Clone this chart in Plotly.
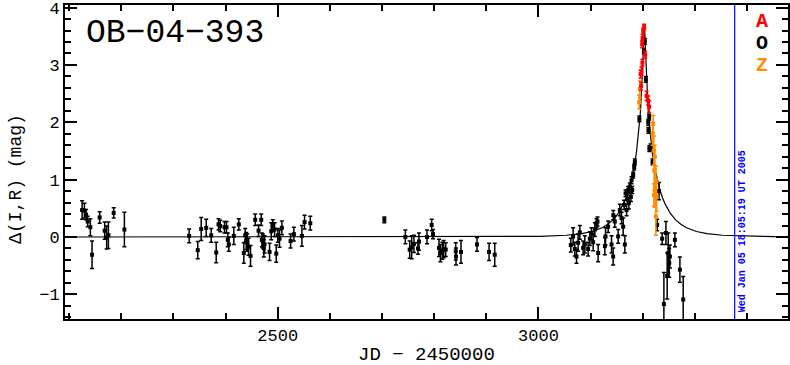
import plotly.graph_objects as go

# ---------------- data ----------------
# model light curve (JD-2450000, Delta mag)
model_t = [2092, 2600, 2803, 2953, 3003, 3053, 3083, 3103, 3123, 3133, 3143, 3153, 3163,
           3168, 3173, 3178, 3183, 3188, 3191, 3193, 3195, 3196, 3197, 3198, 3199,
           3200, 3201, 3202, 3202.5, 3203, 3203.5, 3204, 3205, 3206, 3207, 3208,
           3209, 3210, 3211, 3213, 3215, 3218, 3223, 3228, 3233, 3238, 3243, 3253,
           3263, 3273, 3283, 3303, 3323, 3353, 3403, 3453, 3478]
model_dm = [0.0, 0.0, 0.0, 0.005, 0.011, 0.03, 0.058, 0.096, 0.165, 0.221, 0.299, 0.411,
            0.573, 0.681, 0.815, 0.983, 1.198, 1.486, 1.713, 1.899, 2.125, 2.259, 2.409,
            2.582, 2.781, 3.013, 3.273, 3.523, 3.608, 3.640, 3.608, 3.523, 3.273, 3.013,
            2.781, 2.582, 2.409, 2.259, 2.125, 1.899, 1.713, 1.486, 1.198, 0.983, 0.815,
            0.681, 0.573, 0.411, 0.299, 0.221, 0.165, 0.096, 0.058, 0.03, 0.011, 0.005, 0.004]

# OGLE (O) data
o_t = [2124.8, 2129.2, 2132.4, 2135.5, 2140.6, 2143.9, 2158.5, 2168.1, 2171.9, 2175.2,
       2185.4, 2205.9,
       2330.1, 2346.6, 2353.2, 2362.8, 2372.4, 2382.0, 2386.4, 2389.6, 2397.9, 2401.7,
       2404.2, 2406.1, 2415.7, 2425.3, 2434.9, 2437.6, 2439.5, 2441.5, 2444.0, 2447.8,
       2456.8, 2463.2, 2468.3, 2469.5, 2471.4, 2473.3, 2474.7, 2484.3, 2487.5, 2490.6,
       2493.9, 2497.1, 2500.2, 2503.4, 2507.9, 2524.6, 2530.9, 2546.3, 2551.4, 2562.4,
       2704.4, 2744.7, 2753.0, 2756.8, 2761.2, 2768.9, 2770.8, 2786.2, 2795.2, 2797.7,
       2809.2, 2811.9, 2815.7, 2818.2, 2822.1, 2841.3, 2841.8, 2851.4, 2882.1, 2905.2,
       2916.1,
       3062.0, 3066.4, 3069.7, 3072.9, 3076.0, 3079.3, 3085.6, 3088.9, 3095.2, 3098.5,
       3101.7, 3104.8, 3108.1, 3111.3, 3113.2, 3114.4, 3127.3, 3128.6, 3133.6, 3140.1,
       3143.2, 3143.5, 3146.4, 3152.8, 3156.0, 3159.3, 3162.4, 3164.3, 3165.6, 3167.0,
       3168.9, 3170.8, 3172.0, 3173.3, 3175.2, 3177.2, 3178.5, 3179.7, 3181.6, 3183.5,
       3184.8, 3193.5, 3202.1, 3204.0, 3206.0, 3210.4, 3210.8, 3212.3, 3212.6, 3215.0,
       3218.8, 3227.6, 3231.2, 3237.2, 3240.5, 3244.4, 3246.8, 3248.8, 3250.7, 3252.0,
       3261.6, 3271.2, 3277.5]
o_dm = [0.47, 0.46, 0.39, 0.27, 0.17, -0.31, 0.34, 0.11, -0.01, 0.03,
        0.42, 0.13,
        0.02, -0.23, 0.14, 0.16, 0.03, -0.27, 0.22, 0.19, 0.17, 0.17,
        -0.05, -0.13, 0.02, 0.22, -0.28, 0.03, -0.07, -0.10, -0.17, -0.33,
        0.30, 0.11, 0.30, -0.05, -0.07, -0.20, -0.13, -0.26, 0.10, 0.20,
        0.13, -0.29, 0.03, -0.03, 0.16, -0.07, 0.05, 0.02, 0.26, 0.24,
        0.30, 0.00, -0.22, -0.18, -0.12, -0.20, -0.08, 0.00, 0.21, 0.05,
        -0.19, -0.28, -0.24, -0.21, -0.22, -0.25, -0.34, -0.26, -0.13, -0.26,
        -0.31,
        -0.14, 0.01, -0.21, -0.34, -0.10, 0.08, -0.19, -0.13, -0.21, -0.03,
        0.06, -0.09, 0.13, 0.24, 0.27, -0.28, -0.16, 0.01, 0.18, -0.13,
        -0.34, 0.38, 0.27, 0.01, 0.47, 0.33, 0.18, 0.56, -0.13, 0.76,
        0.47, 0.65, 0.82, 0.59, 0.88, 0.70, 0.99, 0.82, 1.08, 1.22,
        1.31, 2.06, 3.24, 3.41, 2.75, 2.00, 1.86, 2.09, 1.54, 1.57,
        1.31, 0.21, 0.80, -0.03, -1.17, 0.07, -0.68, -0.28, -0.45, -0.34,
        -0.05, -0.57, -1.09]
o_err = [0.16, 0.13, 0.09, 0.09, 0.15, 0.24, 0.10, 0.15, 0.20, 0.23,
         0.09, 0.30,
         0.12, 0.15, 0.20, 0.15, 0.12, 0.18, 0.10, 0.10, 0.10, 0.10,
         0.12, 0.12, 0.15, 0.10, 0.18, 0.12, 0.15, 0.15, 0.15, 0.18,
         0.10, 0.10, 0.10, 0.12, 0.12, 0.15, 0.15, 0.15, 0.15, 0.10,
         0.12, 0.15, 0.12, 0.15, 0.12, 0.12, 0.12, 0.18, 0.12, 0.12,
         0.05, 0.12, 0.15, 0.20, 0.15, 0.10, 0.15, 0.12, 0.10, 0.08,
         0.15, 0.15, 0.15, 0.15, 0.12, 0.15, 0.15, 0.20, 0.12, 0.15,
         0.20,
         0.12, 0.15, 0.12, 0.12, 0.15, 0.12, 0.12, 0.15, 0.12, 0.12,
         0.10, 0.15, 0.12, 0.08, 0.08, 0.15, 0.15, 0.15, 0.10, 0.15,
         0.15, 0.08, 0.10, 0.12, 0.10, 0.10, 0.15, 0.08, 0.15, 0.06,
         0.10, 0.08, 0.06, 0.10, 0.06, 0.08, 0.06, 0.06, 0.05, 0.05,
         0.05, 0.05, 0.05, 0.05, 0.05, 0.05, 0.05, 0.05, 0.05, 0.05,
         0.05, 0.10, 0.15, 0.10, 0.55, 0.20, 0.40, 0.35, 0.25, 0.20,
         0.12, 0.22, 0.40]

# Z data (orange)
z_t = [3194.4, 3193.1, 3220.0, 3218.8, 3221.3, 3223.2, 3221.9, 3225.1, 3223.2, 3226.5,
       3225.1, 3221.3]
z_dm = [2.58, 2.35, 1.97, 1.80, 1.51, 1.40, 1.16, 0.99, 0.82, 0.70, 0.36, 0.73]
z_err = [0.15, 0.12, 0.15, 0.20, 0.25, 0.20, 0.35, 0.25, 0.30, 0.25, 0.33, 0.20]

# A data (red)
a_t = [3202.7, 3200.8, 3199.6, 3198.8, 3204.5, 3199.3, 3197.7, 3195.8, 3196.8, 3207.3,
       3210.4, 3212.3]
a_dm = [3.66, 3.59, 3.47, 3.36, 3.18, 3.04, 2.89, 2.84, 2.63, 2.46, 2.38, 2.27]
a_err = [0.05, 0.05, 0.06, 0.06, 0.06, 0.06, 0.07, 0.07, 0.07, 0.08, 0.08, 0.10]

now_jd = 3376.25
now_label = "Wed Jan 05 18:05:19 UT 2005"
title_txt = "OB\u221204\u2212393"
legend_names = ["A", "O", "Z"]
legend_colors = ["#ff0000", "#000000", "#ff8c00"]

FONT = "Liberation Mono"

fig = go.Figure()
fig.add_trace(go.Scatter(x=model_t, y=model_dm, mode="lines",
                         line=dict(color="black", width=1.2), hoverinfo="skip"))


def add_data(t, dm, err, color):
    fig.add_trace(go.Scatter(
        x=t, y=dm, mode="markers",
        marker=dict(symbol="square", size=4, color=color, line=dict(width=0)),
        error_y=dict(type="data", array=err, visible=True, color=color,
                     thickness=1.5, width=2)))


add_data(o_t, o_dm, o_err, legend_colors[1])
add_data(z_t, z_dm, z_err, legend_colors[2])
add_data(a_t, a_dm, a_err, legend_colors[0])

fig.add_shape(type="line", xref="x", yref="paper", x0=now_jd, x1=now_jd, y0=0, y1=1,
              line=dict(color="#0000ff", width=1.2))

fig.add_annotation(x=now_jd, y=-1.43, xref="x", yref="y", xanchor="left", yanchor="bottom",
                   xshift=0, yshift=5, text="<b>" + now_label + "</b>", textangle=-90,
                   showarrow=False,
                   font=dict(family=FONT, size=10, color="#0000ff"))

fig.add_annotation(x=0.026, y=0.975, xref="paper", yref="paper", xanchor="left",
                   yanchor="top", text=title_txt, showarrow=False,
                   font=dict(family=FONT, size=33, color="black"))

for i, (nm, col) in enumerate(zip(legend_names, legend_colors)):
    fig.add_annotation(x=0.9635, y=0.947 - i * 0.07, xref="paper", yref="paper",
                       xanchor="center", yanchor="middle", text="<b>" + nm + "</b>",
                       showarrow=False,
                       font=dict(family=FONT, size=20, color=col))

fig.add_annotation(x=0.5, y=-0.114, xref="paper", yref="paper", xanchor="center",
                   yanchor="middle", text="JD \u2212 2450000", showarrow=False,
                   font=dict(family=FONT, size=19, color="black"))
fig.add_annotation(x=-0.067, y=0.445, xref="paper", yref="paper", xanchor="center",
                   yanchor="middle", text="\u0394(I,R) (mag)", textangle=-90,
                   showarrow=False, font=dict(family=FONT, size=18, color="black"))

axis_common = dict(showline=True, linecolor="black", linewidth=2, mirror="allticks",
                   ticks="inside", tickcolor="black", tickwidth=1.5, ticklen=12,
                   showgrid=False, zeroline=False, automargin=False,
                   ticklabeloverflow="allow",
                   tickfont=dict(family=FONT, size=17, color="black"))

fig.update_xaxes(range=[2092, 3478.5], dtick=500, tick0=0,
                 minor=dict(dtick=100, ticks="inside", ticklen=6, tickcolor="black",
                            tickwidth=1.5, showgrid=False),
                 **axis_common)
fig.update_yaxes(range=[-1.43, 4.045], dtick=1, tick0=0,
                 minor=dict(dtick=0.2, ticks="inside", ticklen=6, tickcolor="black",
                            tickwidth=1.5, showgrid=False),
                 **axis_common)

fig.update_layout(width=790, height=365, margin=dict(l=65, r=2, t=5, b=46),
                  paper_bgcolor="white", plot_bgcolor="white", showlegend=False)

fig.write_html("out.html", config={"displayModeBar": False},
               post_script="document.body.style.margin='0px';document.body.style.padding='0px';")
